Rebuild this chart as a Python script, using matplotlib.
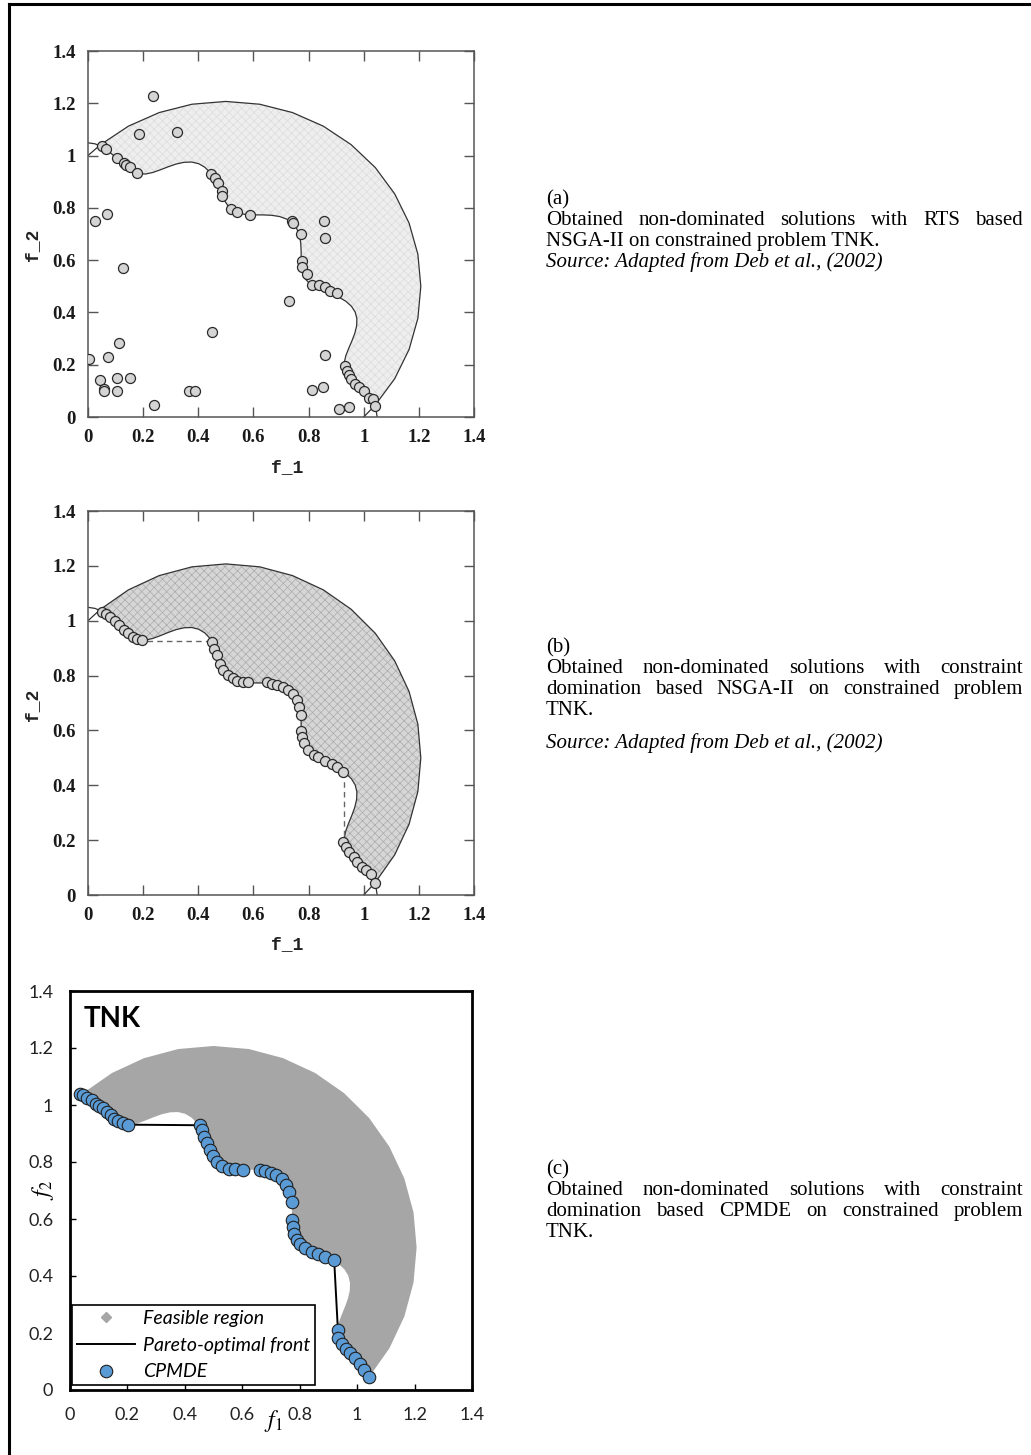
import matplotlib
matplotlib.use("Agg")
import matplotlib.pyplot as plt
from matplotlib.lines import Line2D
import numpy as np

W, H = 1031, 1455
DPI = 100

# TNK constraint boundary (inner, wavy)
inner_f1 = [0.0, 0.0257, 0.0508, 0.0750, 0.098, 0.1200, 0.1414, 0.1629, 0.1851, 0.2087,
            0.2342, 0.2616, 0.2903, 0.3196, 0.3486, 0.3762, 0.4014, 0.4236, 0.4425, 0.4582,
            0.4714, 0.4834, 0.4956, 0.5097, 0.5271, 0.5486, 0.5743, 0.6034, 0.6344, 0.6656,
            0.6950, 0.7207, 0.7416, 0.7570, 0.7668, 0.7716, 0.7730, 0.7731, 0.7743, 0.7789,
            0.7888, 0.8049, 0.8268, 0.8533, 0.8819, 0.9102, 0.9355, 0.9555, 0.9690, 0.9752,
            0.9743, 0.9676, 0.9569, 0.9452, 0.9351, 0.9295, 0.9305, 0.9387, 0.9536, 0.9733,
            0.9952, 1.0162, 1.0336, 1.0449, 1.0488]
inner_f2 = inner_f1[::-1]

# outer circular boundary
outer_f1 = [0.0, 0.0455, 0.1464, 0.2582, 0.3772, 0.5, 0.6228, 0.7418, 0.8536, 0.9545,
            1.0417, 1.1124, 1.1645, 1.1964, 1.2071, 1.1964, 1.1645, 1.1124, 1.0417, 1.0]
outer_f2 = [1.0, 1.0417, 1.1124, 1.1645, 1.1964, 1.2071, 1.1964, 1.1645, 1.1124, 1.0417,
            0.9545, 0.8536, 0.7418, 0.6228, 0.5, 0.3772, 0.2582, 0.1464, 0.0455, 0.0]

# (a) RTS based NSGA-II
a_f1 = [0.237, 0.324, 0.184, 0.050, 0.065, 0.104, 0.131, 0.137, 0.152, 0.178,
        0.447, 0.462, 0.472, 0.485, 0.486, 0.520, 0.540, 0.588, 0.740, 0.745,
        0.771, 0.776, 0.777, 0.793, 0.811, 0.839, 0.858, 0.878, 0.902, 0.856,
        0.860, 0.730, 0.450, 0.128, 0.024, 0.068, 0.111, 0.074, 0.005, 0.044,
        0.058, 0.058, 0.104, 0.106, 0.152, 0.239, 0.368, 0.387, 0.811, 0.854,
        0.860, 0.932, 0.938, 0.948, 0.953, 0.969, 0.984, 1.001, 1.020, 1.033,
        1.041, 0.909, 0.948]
a_f2 = [1.228, 1.089, 1.083, 1.038, 1.025, 0.992, 0.970, 0.964, 0.955, 0.932,
        0.930, 0.913, 0.896, 0.864, 0.845, 0.794, 0.783, 0.774, 0.748, 0.743,
        0.699, 0.598, 0.572, 0.546, 0.505, 0.505, 0.496, 0.483, 0.473, 0.748,
        0.683, 0.445, 0.324, 0.571, 0.750, 0.776, 0.284, 0.228, 0.220, 0.142,
        0.106, 0.101, 0.099, 0.150, 0.150, 0.046, 0.099, 0.099, 0.103, 0.116,
        0.237, 0.196, 0.177, 0.161, 0.145, 0.126, 0.113, 0.101, 0.071, 0.068,
        0.042, 0.032, 0.040]

# (b) constraint domination NSGA-II
b_f1 = [0.050, 0.065, 0.080, 0.098, 0.114, 0.131, 0.146, 0.162, 0.177, 0.195,
        0.449, 0.457, 0.467, 0.479, 0.491, 0.507, 0.525, 0.542, 0.561, 0.581,
        0.648, 0.667, 0.685, 0.707, 0.727, 0.745, 0.757, 0.767, 0.772,
        0.773, 0.775, 0.783, 0.799, 0.818, 0.835, 0.860, 0.884, 0.904, 0.926,
        0.926, 0.936, 0.948, 0.963, 0.977, 0.993, 1.009, 1.026, 1.041]
b_f2 = [1.033, 1.024, 1.012, 1.000, 0.984, 0.966, 0.954, 0.942, 0.934, 0.928,
        0.923, 0.898, 0.874, 0.844, 0.820, 0.802, 0.790, 0.781, 0.776, 0.775,
        0.775, 0.771, 0.765, 0.759, 0.747, 0.733, 0.711, 0.687, 0.656,
        0.599, 0.577, 0.553, 0.529, 0.510, 0.502, 0.490, 0.478, 0.465, 0.450,
        0.194, 0.176, 0.158, 0.140, 0.122, 0.103, 0.091, 0.077, 0.045]
b_gap_f1 = [0.213, 0.437, np.nan, 0.929, 0.929]
b_gap_f2 = [0.927, 0.927, np.nan, 0.45, 0.19]

# (c) CPMDE, groups separated by nan
c_f1 = [0.035, 0.046, 0.060, 0.075, 0.091, 0.102, 0.114, 0.128, 0.142, 0.153, 0.168, 0.184, 0.201,
        0.451, 0.459, 0.467, 0.476, 0.486, 0.497, 0.511, 0.528, 0.552, 0.575, 0.602, np.nan,
        0.660, 0.680, 0.699, 0.718, 0.737, 0.753, 0.764, 0.772, np.nan,
        0.772, 0.775, 0.780, 0.790, 0.801, 0.819, 0.842, 0.865, 0.888, 0.920,
        0.933, 0.935, 0.947, 0.962, 0.976, 0.993, 1.010, 1.024, 1.040]
c_f2 = [1.038, 1.034, 1.026, 1.017, 1.005, 0.997, 0.988, 0.976, 0.964, 0.952, 0.943, 0.937, 0.931,
        0.929, 0.912, 0.888, 0.865, 0.841, 0.820, 0.801, 0.787, 0.777, 0.774, 0.771, np.nan,
        0.771, 0.769, 0.763, 0.754, 0.739, 0.719, 0.695, 0.660, np.nan,
        0.596, 0.573, 0.549, 0.528, 0.512, 0.497, 0.485, 0.476, 0.467, 0.456,
        0.210, 0.181, 0.161, 0.143, 0.129, 0.111, 0.091, 0.070, 0.044]

ticks = [0, 0.2, 0.4, 0.6, 0.8, 1.0, 1.2, 1.4]
tick_labels = ["0", "0.2", "0.4", "0.6", "0.8", "1", "1.2", "1.4"]

captions = {
    "a": ("(a)", ["Obtained non-dominated solutions with RTS based",
                  "NSGA-II on constrained problem TNK."], True),
    "b": ("(b)", ["Obtained non-dominated solutions with constraint",
                  "domination based NSGA-II on constrained problem",
                  "TNK."], True),
    "c": ("(c)", ["Obtained non-dominated solutions with constraint",
                  "domination based CPMDE on constrained problem",
                  "TNK."], False),
}
source_text = "Source: Adapted from Deb et al., (2002)"


def px_axes(fig, left, top, right, bottom):
    return fig.add_axes([left / W, 1 - bottom / H, (right - left) / W, (bottom - top) / H])


def region_polygon():
    # outer arc (without the axis end points) then inner curve back
    xs = list(outer_f1[1:-1])
    ys = list(outer_f2[1:-1])
    for x, y in zip(inner_f1[::-1], inner_f2[::-1]):
        if (x - 0.5) ** 2 + (y - 0.5) ** 2 <= 0.5:
            xs.append(x)
            ys.append(y)
    return xs, ys


def scan_panel(ax, fill_color, hatch_color, f1, f2, gap=None):
    px, py = region_polygon()
    ax.fill(px, py, facecolor=fill_color, edgecolor=hatch_color, hatch="xxxx",
            lw=0, zorder=1)
    ax.plot(inner_f1, inner_f2, color="#333333", lw=0.9, zorder=2)
    ax.plot(outer_f1, outer_f2, color="#333333", lw=0.9, zorder=2)
    if gap is not None:
        ax.plot(gap[0], gap[1], color="#666666", lw=1.0, ls=(0, (4, 3)), zorder=2)
    ax.scatter(f1, f2, s=52, facecolor="#d4d4d4", edgecolor="#2a2a2a", linewidth=0.9, zorder=3)
    ax.set_xlim(0, 1.4)
    ax.set_ylim(0, 1.4)
    ax.set_xticks(ticks)
    ax.set_yticks(ticks)
    ax.set_xticklabels(tick_labels)
    ax.set_yticklabels(tick_labels)
    ax.tick_params(direction="in", length=7, width=1.0, color="#555555",
                   top=True, right=True, pad=9, labelsize=13.5, labelcolor="#1a1a1a")
    for lab in ax.get_xticklabels() + ax.get_yticklabels():
        lab.set_fontfamily("Liberation Serif")
        lab.set_fontweight("bold")
    for sp in ax.spines.values():
        sp.set_color("#555555")
        sp.set_linewidth(1.1)


def write_line(fig, renderer, text, x0, y, x1=None, style="normal", size=15):
    kw = dict(fontfamily="Liberation Serif", fontsize=size, style=style,
              va="baseline", ha="left", color="black")
    if x1 is None:
        fig.text(x0 / W, 1 - y / H, text, **kw)
        return
    words = text.split()
    objs = [fig.text(x0 / W, 1 - y / H, w, **kw) for w in words]
    widths = [o.get_window_extent(renderer).width for o in objs]
    gap = (x1 - x0 - sum(widths)) / (len(words) - 1)
    x = x0
    for o, w in zip(objs, widths):
        o.set_x(x / W)
        x += w + gap


plt.rcParams["mathtext.fontset"] = "stix"
plt.rcParams["hatch.linewidth"] = 0.5
fig = plt.figure(figsize=(W / DPI, H / DPI), dpi=DPI)
renderer = fig.canvas.get_renderer()

# outer frame (top and left)
fig.add_artist(Line2D([8.7 / W, 8.7 / W], [0, 1 - 3.5 / H], transform=fig.transFigure,
                      color="black", lw=2.2))
fig.add_artist(Line2D([8.7 / W, 1], [1 - 4.0 / H, 1 - 4.0 / H], transform=fig.transFigure,
                      color="black", lw=2.2))

# panel a
ax_a = px_axes(fig, 88, 51, 474, 417)
scan_panel(ax_a, "#eeeeee", "#dcdcdc", a_f1, a_f2)
fig.text(287 / W, 1 - 468 / H, "f_1", fontfamily="Liberation Mono", fontweight="bold",
         fontsize=13, ha="center", va="center", color="#222222")
fig.text(33 / W, 1 - 245 / H, "f_2", fontfamily="Liberation Mono", fontweight="bold",
         fontsize=13, ha="center", va="center", rotation=90, color="#222222")

# panel b
ax_b = px_axes(fig, 88, 511, 474, 895)
scan_panel(ax_b, "#d6d6d6", "#ababab", b_f1, b_f2, gap=(b_gap_f1, b_gap_f2))
fig.text(287 / W, 1 - 945 / H, "f_1", fontfamily="Liberation Mono", fontweight="bold",
         fontsize=13, ha="center", va="center", color="#222222")
fig.text(33 / W, 1 - 705 / H, "f_2", fontfamily="Liberation Mono", fontweight="bold",
         fontsize=13, ha="center", va="center", rotation=90, color="#222222")

# panel c
ax_c = px_axes(fig, 70, 991, 472, 1390)
px, py = region_polygon()
ax_c.fill(px, py, color="#a6a6a6", lw=0, zorder=1)
ax_c.plot(c_f1, c_f2, color="black", lw=1.4, zorder=2)
ax_c.plot(c_f1, c_f2, ls="none", marker="o", ms=9, mfc="#5b9bd5", mec="#1f1f1f",
          mew=0.8, zorder=3)
ax_c.set_xlim(0, 1.4)
ax_c.set_ylim(0, 1.4)
ax_c.set_xticks(ticks)
ax_c.set_yticks(ticks)
ax_c.set_xticklabels(tick_labels)
ax_c.set_yticklabels(tick_labels)
ax_c.tick_params(direction="in", length=4, width=1.0, pad=12, labelsize=13,
                 labelcolor="#222222")
for lab in ax_c.get_xticklabels() + ax_c.get_yticklabels():
    lab.set_fontfamily("Lato")
for sp in ax_c.spines.values():
    sp.set_linewidth(2.0)
ax_c.text(0.033, 0.93, "TNK", transform=ax_c.transAxes, fontfamily="Lato",
          fontweight="bold", fontsize=20, ha="left", va="center")
handles = [
    Line2D([], [], ls="none", marker="D", ms=5, mfc="#a6a6a6", mec="#a6a6a6"),
    Line2D([], [], color="black", lw=1.4),
    Line2D([], [], ls="none", marker="o", ms=9, mfc="#5b9bd5", mec="#1f1f1f", mew=0.8),
]
leg = ax_c.legend(handles, ["Feasible region", "Pareto-optimal front", "CPMDE"],
                  loc="lower left", bbox_to_anchor=(0.005, 0.012), fancybox=False,
                  edgecolor="black", framealpha=1, handlelength=3.0, handletextpad=0.4,
                  labelspacing=0.5, borderpad=0.25, borderaxespad=0,
                  prop={"family": "Lato", "style": "italic", "size": 14})
leg.get_frame().set_linewidth(1.2)
fig.text(273 / W, 1 - 1421 / H, r"$f_1$", fontsize=17, ha="center", va="center")
fig.text(43 / W, 1 - 1190 / H, r"$f_2$", fontsize=17, ha="center", va="center", rotation=90)

# captions on the right (baselines in pixels)
x0, x1 = 546, 1023
baselines = {
    "a": [204, 225, 246, 267],
    "b": [652, 673, 694, 715, 748],
    "c": [1174, 1195, 1216, 1237],
}
for key in ("a", "b", "c"):
    label, lines, has_source = captions[key]
    ys = baselines[key]
    write_line(fig, renderer, label, x0, ys[0])
    for i, line in enumerate(lines):
        last = i == len(lines) - 1
        write_line(fig, renderer, line, x0, ys[i + 1], None if last else x1)
    if has_source:
        write_line(fig, renderer, source_text, x0, ys[-1], style="italic")

fig.savefig("out.png", dpi=DPI)
